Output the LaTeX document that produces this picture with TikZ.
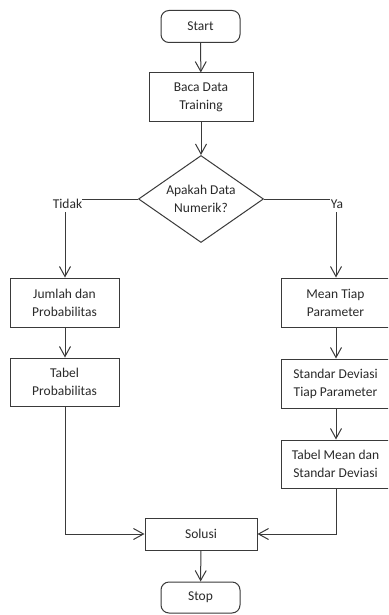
\documentclass[tikz,border=0pt]{standalone}
\usepackage{fontspec}
\setmainfont{Carlito}
\usetikzlibrary{shapes.geometric,arrows.meta}
\definecolor{ln}{HTML}{3A3A3A}
\definecolor{tx}{HTML}{2A2A2A}
\tikzset{
  base/.style={draw=ln, line width=1pt, text=tx, font=\fontsize{13.5}{18}\selectfont, align=center, inner sep=0pt},
  termbox/.style={base, rounded corners=8pt, minimum width=79pt, minimum height=32pt},
  procbox/.style={base, minimum width=109pt, minimum height=49pt},
  decbox/.style={base, diamond, aspect=1.43, minimum width=125pt, minimum height=87pt},
  lbl/.style={text=tx, font=\fontsize{13.5}{18}\selectfont, inner sep=0pt},
  conn/.style={draw=ln, line width=1pt, -{Straight Barb[length=10pt,width=11pt,line width=1pt]}},
  plain/.style={draw=ln, line width=1pt}
}
\begin{document}
\begin{tikzpicture}[x=1pt,y=-1pt]
\useasboundingbox[clip] (0,0) rectangle (388,615);
\fill[white] (0,0) rectangle (388,615);
\node[termbox] (start) at (200.5,26.5) {Start};
\node[procbox, minimum width=104pt, minimum height=48pt] (baca) at (201,97) {Baca Data\\Training};
\node[decbox] (dec) at (201,199) {Apakah Data\\Numerik?};
\node[lbl] (tidak) at (67.5,204) {Tidak};
\node[lbl] (ya) at (337,204) {Ya};
\coordinate (tl) at (82,199);
\coordinate (tv) at (65,212);
\coordinate (yl) at (330,199);
\coordinate (yv) at (336,212);
\node[procbox] (jumlah) at (64.5,302.5) {Jumlah dan\\Probabilitas};
\node[procbox, minimum height=48pt] (tabprob) at (64.5,382) {Tabel\\Probabilitas};
\node[procbox] (mean) at (335.5,302.5) {Mean Tiap\\Parameter};
\node[procbox] (std) at (335.5,383.5) {Standar Deviasi\\Tiap Parameter};
\node[procbox, minimum height=48pt] (tabmean) at (335.5,464) {Tabel Mean dan\\Standar Deviasi};
\node[procbox, minimum width=112pt, minimum height=32pt] (solusi) at (201,534) {Solusi};
\node[termbox, minimum height=31pt] (stop) at (200.5,597.5) {Stop};
\draw[conn] (start) -- (baca);
\draw[conn] (baca) -- (dec);
\draw[plain] (dec.west) -- (tl);
\draw[plain] (dec.east) -- (yl);
\draw[conn] (tv) -- (tv |- jumlah.north);
\draw[conn] (yv) -- (yv |- mean.north);
\draw[conn] (jumlah.south -| tv) -- (tv |- tabprob.north);
\draw[conn] (mean.south -| yv) -- (yv |- std.north);
\draw[conn] (std.south -| yv) -- (yv |- tabmean.north);
\draw[conn] (tabprob.south -| tv) |- (solusi.west);
\draw[conn] (tabmean.south -| yv) |- (solusi.east);
\draw[conn] (solusi) -- (stop);
\end{tikzpicture}
\end{document}
